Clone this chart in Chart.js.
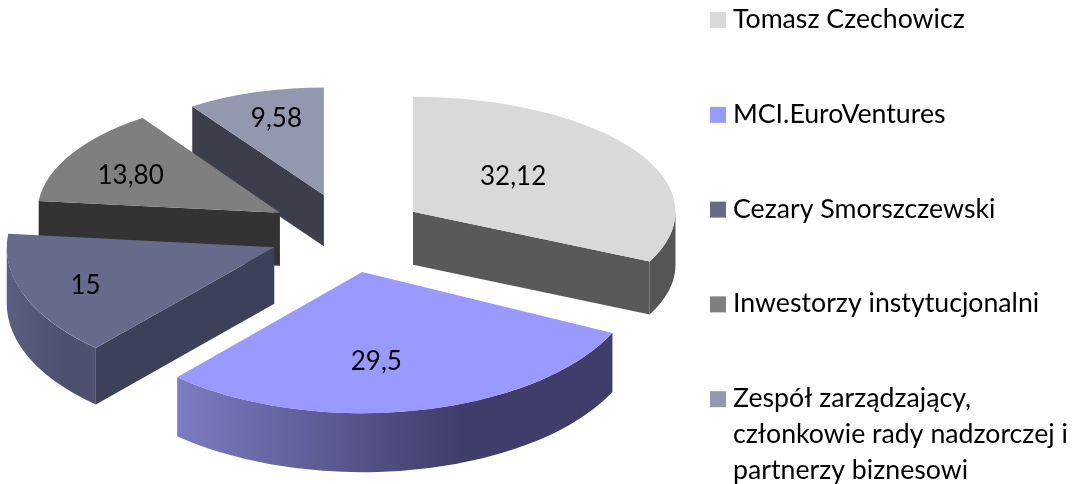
<!DOCTYPE html>
<html>
<head>
<meta charset="utf-8">
<title>Akcjonariat</title>
<script src="https://cdn.jsdelivr.net/npm/chart.js@4"></script>
<style>
  html, body { margin: 0; padding: 0; background: #fff; }
  canvas { display: block; filter: blur(0.4px); }
</style>
</head>
<body>
<canvas id="grafico" width="1078" height="484"></canvas>
<script>
const categories = [
  'Tomasz Czechowicz',
  'MCI.EuroVentures',
  'Cezary Smorszczewski',
  'Inwestorzy instytucjonalni',
  ['Zespół zarządzający,', 'członkowie rady nadzorczej i', 'partnerzy biznesowi']
];
const shares = [32.12, 29.5, 15, 13.8, 9.58];
const shareLabels = ['32,12', '29,5', '15', '13,80', '9,58'];

// cores
const topColors = ['#d9d9d9', '#9999ff', '#666b8c', '#7f7f7f', '#9298ae'];
const faceColors = ['#595959', '#3f3d69', '#3c4059', '#333333', '#3c3f4b'];
const wallColors = [
  ['#555555', '#555555'],
  ['#7c7cc2', '#3f3d69'],
  ['#5a5e80', '#4d516f'],
  ['#333333', '#333333'],
  ['#3c3f4b', '#3c3f4b']
];

// perspectiva: cada fatia tem a sua escala em relacao ao raio do grafico
const scaleX = [1.05, 1.11, 1.07, 0.97, 0.93];
const scaleY = [0.46, 0.565, 0.54, 0.46, 0.43];
const labelNudge = [[-11, -5], [-13, 20], [-64, 14], [-45, -8], [-13, -25]];

const explode = 78;
const tilt = 0.51;
const font = '"Lato", "Carlito", sans-serif';

function geometry(chart, arc, i) {
  const mid = (arc.startAngle + arc.endAngle) / 2;
  return {
    mid: mid,
    ax: arc.x + explode * Math.cos(mid),
    ay: arc.y + explode * tilt * Math.sin(mid),
    rx: arc.outerRadius * scaleX[i],
    ry: arc.outerRadius * scaleY[i],
    depth: 55 + 4 * Math.sin(mid)
  };
}

function drawFace(ctx, g, angle, color) {
  const x = g.ax + g.rx * Math.cos(angle);
  const y = g.ay + g.ry * Math.sin(angle);
  ctx.beginPath();
  ctx.moveTo(g.ax, g.ay);
  ctx.lineTo(x, y);
  ctx.lineTo(x, y + g.depth);
  ctx.lineTo(g.ax, g.ay + g.depth);
  ctx.closePath();
  ctx.fillStyle = color;
  ctx.fill();
}

function drawWall(ctx, g, from, to, colors) {
  const a0 = Math.max(from, 0);
  const a1 = Math.min(to, Math.PI);
  if (a1 <= a0) return;
  const x0 = g.ax + g.rx * Math.cos(a1);
  const x1 = g.ax + g.rx * Math.cos(a0);
  const grad = ctx.createLinearGradient(x0, 0, x0 + (x1 - x0) * 0.65, 0);
  grad.addColorStop(0, colors[0]);
  grad.addColorStop(1, colors[1]);
  ctx.beginPath();
  ctx.ellipse(g.ax, g.ay, g.rx, g.ry, 0, a0, a1);
  ctx.ellipse(g.ax, g.ay + g.depth, g.rx, g.ry, 0, a1, a0, true);
  ctx.closePath();
  ctx.fillStyle = grad;
  ctx.fill();
}

const pie3d = {
  id: 'pie3d',
  beforeDatasetDraw() {
    return false;
  },
  afterDatasetsDraw(chart) {
    const ctx = chart.ctx;
    const arcs = chart.getDatasetMeta(0).data;
    const order = arcs.map((arc, i) => i).sort((a, b) => {
      return Math.sin((arcs[a].startAngle + arcs[a].endAngle) / 2) -
             Math.sin((arcs[b].startAngle + arcs[b].endAngle) / 2);
    });

    order.forEach(i => {
      const arc = arcs[i];
      const g = geometry(chart, arc, i);
      if (-Math.cos(arc.startAngle) > 0.001) drawFace(ctx, g, arc.startAngle, faceColors[i]);
      if (Math.cos(arc.endAngle) > 0.001) drawFace(ctx, g, arc.endAngle, faceColors[i]);
      drawWall(ctx, g, arc.startAngle, arc.endAngle, wallColors[i]);

      // o topo e o proprio arco do Chart.js, achatado
      ctx.save();
      ctx.translate(g.ax, g.ay);
      ctx.scale(scaleX[i], scaleY[i]);
      ctx.translate(-arc.x, -arc.y);
      arc.draw(ctx);
      ctx.restore();
    });

    ctx.save();
    ctx.fillStyle = '#000';
    ctx.font = '26px ' + font;
    ctx.textAlign = 'center';
    ctx.textBaseline = 'middle';
    arcs.forEach((arc, i) => {
      const g = geometry(chart, arc, i);
      ctx.fillText(
        shareLabels[i],
        g.ax + g.rx * 0.5 * Math.cos(g.mid) + labelNudge[i][0],
        g.ay + g.ry * 0.5 * Math.sin(g.mid) + labelNudge[i][1]
      );
    });
    ctx.restore();
  },
  afterDraw(chart) {
    const ctx = chart.ctx;
    ctx.save();
    ctx.font = '26.7px ' + font;
    ctx.textAlign = 'left';
    ctx.textBaseline = 'alphabetic';
    chart.data.labels.forEach((label, i) => {
      const y = 28 + i * 94.8;
      ctx.fillStyle = topColors[i];
      ctx.fillRect(710, y - 16, 16, 16);
      ctx.fillStyle = '#000';
      [].concat(label).forEach((line, n) => {
        ctx.fillText(line, 733, y + n * 36);
      });
    });
    ctx.restore();
  }
};

new Chart(document.getElementById('grafico'), {
  type: 'pie',
  data: {
    labels: categories,
    datasets: [{
      data: shares,
      backgroundColor: topColors,
      borderWidth: 0
    }]
  },
  options: {
    responsive: false,
    animation: false,
    radius: 250,
    layout: { padding: { left: 0, top: 0, right: 384, bottom: 18 } },
    plugins: {
      legend: { display: false },
      tooltip: { enabled: false }
    }
  },
  plugins: [pie3d]
});
</script>
</body>
</html>
